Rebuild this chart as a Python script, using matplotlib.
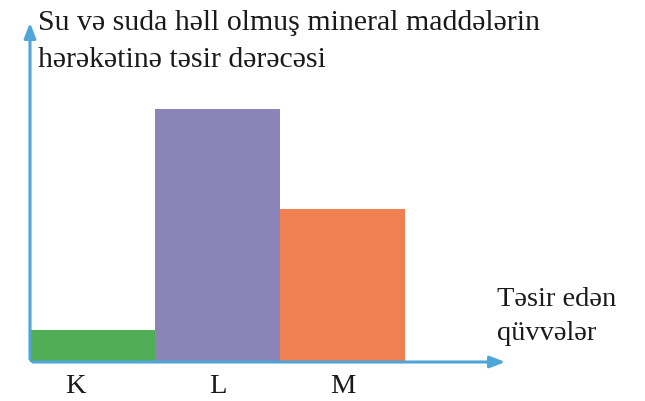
import matplotlib
matplotlib.use("Agg")
import matplotlib.pyplot as plt

# bar data (relative degree of influence)
categories = ["K", "L", "M"]
values = [1.25, 10.0, 6.05]
colors = ["#52ad57", "#8a84b8", "#f08052"]
label_x = [0.36, 1.5, 2.5]

title_lines = "Su və suda həll olmuş mineral maddələrin\nhərəkətinə təsir dərəcəsi"
x_title = "Təsir edən\nqüvvələr"

plt.rcParams['font.family'] = ['Liberation Serif', 'DejaVu Serif']

W, H = 645, 401
fig = plt.figure(figsize=(W / 100, H / 100), dpi=100)
# axes box: origin at pixel (30, 362), x arrow tip at 508, y arrow tip at 20
ax = fig.add_axes([30 / W, (H - 362) / H, 478 / W, 342 / H])
ax.set_xlim(0, 478 / 125)
ax.set_ylim(0, 342 / 25.3)
ax.axis("off")

xs = list(range(len(categories)))
ax.bar(xs, values, width=1.0, align="edge", color=colors,
       edgecolor="none", zorder=2)

axis_col = "#4ea6d8"
ax.annotate("", xy=(1, 0), xytext=(0, 0), xycoords="axes fraction",
            arrowprops=dict(arrowstyle="-|>,head_length=0.9,head_width=0.35",
                            color=axis_col, lw=2.2), zorder=3)
ax.annotate("", xy=(0, 1), xytext=(0, 0), xycoords="axes fraction",
            arrowprops=dict(arrowstyle="-|>,head_length=0.9,head_width=0.35",
                            color=axis_col, lw=2.2), zorder=3)

for x, c in zip(label_x, categories):
    ax.text(x, -0.95, c, ha="center", va="center", fontsize=20.5,
            color="#1a1a1a", clip_on=False)

fig.text(38 / W, 1 - 10 / H, title_lines, ha="left", va="top",
         fontsize=21.5, color="#1a1a1a", linespacing=1.55)
fig.text(497 / W, 1 - 287 / H, x_title, ha="left", va="top",
         fontsize=20.5, color="#1a1a1a", linespacing=1.45)

fig.savefig("out.png", dpi=100, facecolor="white")
